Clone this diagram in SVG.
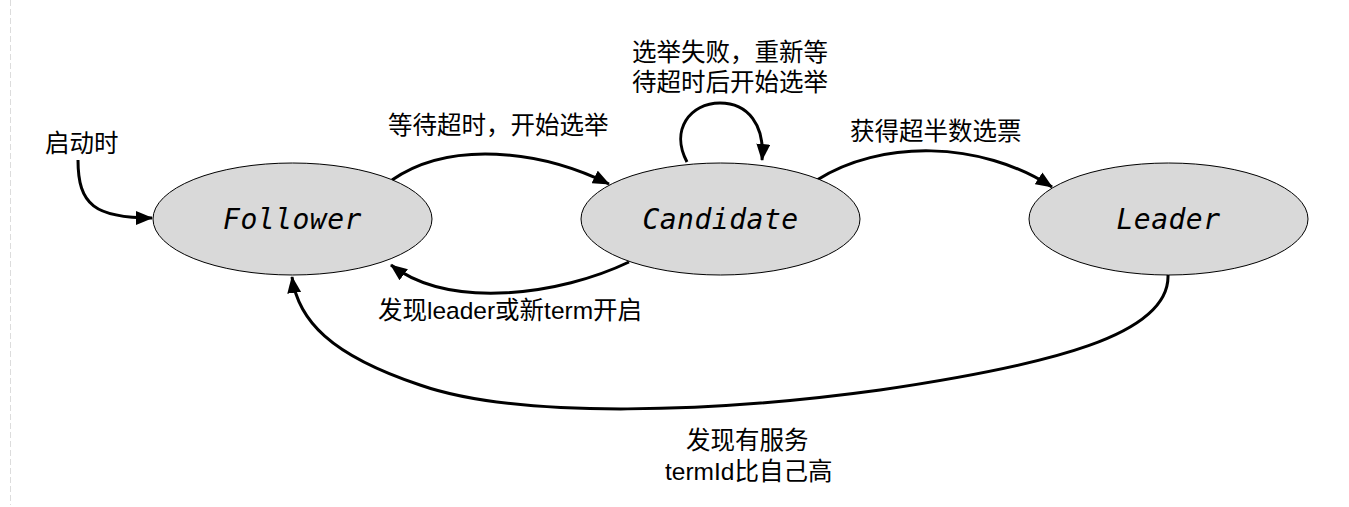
<svg xmlns="http://www.w3.org/2000/svg" width="1349" height="507" viewBox="0 0 1349 507">
<style>
.node{fill:#d9d9d9;stroke:#000;stroke-width:1}
.nt{font-family:"DejaVu Sans Mono","Liberation Mono",monospace;font-style:italic;font-size:28px;letter-spacing:0.5px;fill:#000;text-anchor:middle}
.lbl{font-family:"Liberation Sans","Noto Sans CJK SC",sans-serif;font-size:24.5px;fill:#000}
.edge{fill:none;stroke:#000;stroke-width:3}
</style>
<defs>
<marker id="arr" markerUnits="userSpaceOnUse" markerWidth="18" markerHeight="14" refX="16" refY="7" orient="auto">
<path d="M0,0 L17,7 L0,14 Z" fill="#000"/>
</marker>
</defs>
<line x1="10.5" y1="0" x2="10.5" y2="505" stroke="#dcdcdc" stroke-width="1" stroke-dasharray="6 3"/>
<g id="connectors">
<path class="edge" d="M78,160 C78,205 95,218 152,218" marker-end="url(#arr)"/>
<path class="edge" d="M392,180 C450,140 540,150 609,184" marker-end="url(#arr)"/>
<path class="edge" d="M629,262 C560,295 450,310 391,265" marker-end="url(#arr)"/>
<path class="edge" d="M687,162 C670,130 690,103 720,103 C748,103 765,125 762,160" marker-end="url(#arr)"/>
<path class="edge" d="M817,180 C880,140 980,140 1052,187" marker-end="url(#arr)"/>
<path class="edge" d="M1168,275 C1170,335 1050,365 880,390 C720,412 520,420 420,385 C330,355 298,320 292,277" marker-end="url(#arr)"/>
</g>
<g id="follower">
<ellipse class="node" cx="292.5" cy="219" rx="139.5" ry="56"/>
<text class="nt" x="292.5" y="229">Follower</text>
</g>
<g id="candidate">
<ellipse class="node" cx="720.5" cy="219" rx="139.5" ry="56"/>
<text class="nt" x="720.5" y="229">Candidate</text>
</g>
<g id="leader">
<ellipse class="node" cx="1168.5" cy="219" rx="139.5" ry="56"/>
<text class="nt" x="1168.5" y="229">Leader</text>
</g>
<g id="labels">
<text class="lbl" x="45" y="152">启动时</text>
<text class="lbl" x="388" y="134">等待超时，开始选举</text>
<text class="lbl" x="632" y="61">选举失败，重新等</text>
<text class="lbl" x="632" y="91">待超时后开始选举</text>
<text class="lbl" x="850" y="140">获得超半数选票</text>
<text class="lbl" x="378" y="319">发现leader或新term开启</text>
<text class="lbl" x="686" y="449">发现有服务</text>
<text class="lbl" x="665" y="480">termId比自己高</text>
</g>
</svg>
